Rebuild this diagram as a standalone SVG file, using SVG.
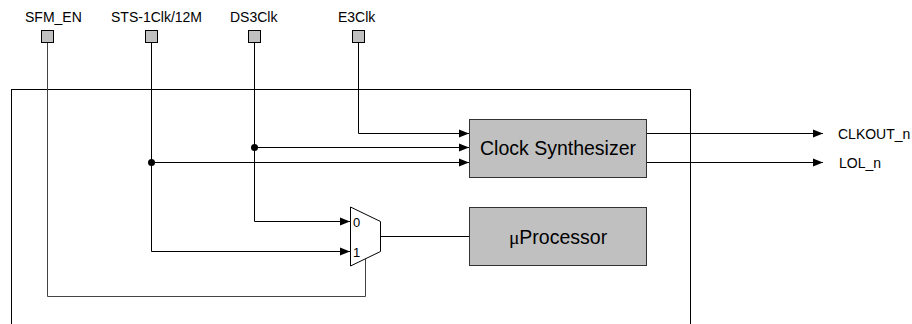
<svg xmlns="http://www.w3.org/2000/svg" width="912" height="324" viewBox="0 0 912 324">
<defs>
<style>
.lbl{font-family:"Liberation Sans",Arial,sans-serif;font-size:14px;fill:#000}
.sm{font-family:"Liberation Sans",Arial,sans-serif;font-size:13px;fill:#000}
.big{font-family:"Liberation Sans",Arial,sans-serif;font-size:19.5px;fill:#000}
.pin{fill:#c0c0c0;stroke:#000;stroke-width:1}
.blk{fill:#c0c0c0;stroke:#333;stroke-width:1}
.w{fill:none;stroke:#000;stroke-width:1}
.g{fill:none;stroke:#444;stroke-width:1}
</style>
<marker id="arr" viewBox="0 0 10 10" refX="10" refY="5" markerWidth="10" markerHeight="10" markerUnits="userSpaceOnUse" orient="auto">
<path d="M0,1 L10,5 L0,9 Z" fill="#000"/>
</marker>
</defs>
<rect x="11.5" y="89.5" width="679" height="260" fill="none" stroke="#000"/>
<g id="connectors">
<polyline class="g" points="47.5,43 47.5,296.5 365.5,296.5 365.5,259"/>
<polyline class="w" points="151.5,43 151.5,251.5 350,251.5" marker-end="url(#arr)"/>
<polyline class="w" points="254.5,43 254.5,221.5 350,221.5" marker-end="url(#arr)"/>
<polyline class="w" points="358.5,43 358.5,133.5 469,133.5" marker-end="url(#arr)"/>
<line class="w" x1="254.5" y1="147.5" x2="469" y2="147.5" marker-end="url(#arr)"/>
<line class="w" x1="151.5" y1="162.5" x2="469" y2="162.5" marker-end="url(#arr)"/>
<circle cx="254.5" cy="147.5" r="3.5" fill="#000"/>
<circle cx="151.5" cy="162.5" r="3.5" fill="#000"/>
<line class="w" x1="381" y1="236.5" x2="469" y2="236.5"/>
<line class="w" x1="647" y1="133.5" x2="823" y2="133.5" marker-end="url(#arr)"/>
<line class="w" x1="647" y1="162.5" x2="823" y2="162.5" marker-end="url(#arr)"/>
</g>
<g id="pin-sfm_en"><rect class="pin" x="41.5" y="30.5" width="12" height="12"/><text class="lbl" x="25" y="21.5">SFM_EN</text></g>
<g id="pin-sts"><rect class="pin" x="145.5" y="30.5" width="12" height="12"/><text class="lbl" x="111" y="21.5">STS-1Clk/12M</text></g>
<g id="pin-ds3"><rect class="pin" x="248.5" y="30.5" width="12" height="12"/><text class="lbl" x="230" y="21.5">DS3Clk</text></g>
<g id="pin-e3"><rect class="pin" x="352.5" y="30.5" width="12" height="12"/><text class="lbl" x="338" y="21.5">E3Clk</text></g>
<g id="clock-synth"><rect class="blk" x="469.5" y="119.5" width="177" height="58"/><text class="big" x="558" y="155" text-anchor="middle">Clock Synthesizer</text></g>
<g id="uproc"><rect class="blk" x="469.5" y="207.5" width="177" height="58"/><text class="big" x="558" y="243.5" text-anchor="middle"><tspan font-family="'Liberation Serif',serif">μ</tspan>Processor</text></g>
<g id="mux"><polygon points="350.5,207 380.5,221.5 380.5,251.5 350.5,266" fill="#fff" stroke="#000"/><text class="sm" x="353" y="227">0</text><text class="sm" x="353" y="257">1</text></g>
<g id="out-clk"><text class="lbl" x="838" y="138.5">CLKOUT_n</text></g>
<g id="out-lol"><text class="lbl" x="839" y="167.5">LOL_n</text></g>
</svg>
